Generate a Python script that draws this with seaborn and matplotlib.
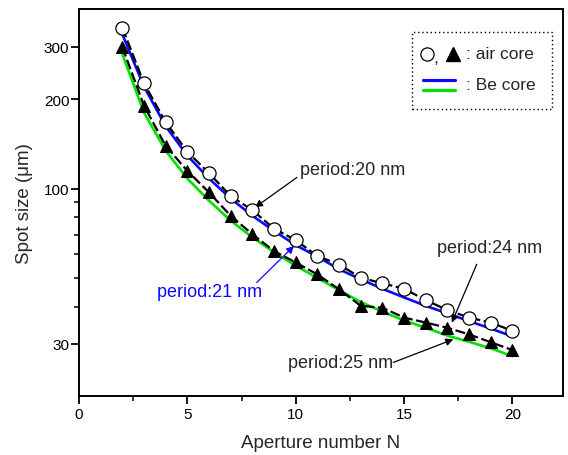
import numpy as np
import pandas as pd
import matplotlib
matplotlib.use("Agg")
import matplotlib.pyplot as plt
import seaborn as sns
from matplotlib.ticker import FixedLocator, NullFormatter, FixedFormatter

# ---------------- data ----------------
aperture_n = [2, 3, 4, 5, 6, 7, 8, 9, 10, 11, 12, 13, 14, 15, 16, 17, 18, 19, 20]
air_core_p20 = [347, 226, 167, 133, 112.5, 94.4, 84.5, 73.3, 67, 59.3, 55.5,
                50.1, 48.0, 46.0, 42.1, 39.0, 36.8, 35.4, 33.2]
air_core_p25 = [299, 190, 139, 114.6, 97, 80.9, 70.2, 61.6, 56.4, 51.4, 45.8,
                40.3, 39.7, 36.8, 35.4, 34.0, 32.3, 30.4, 28.6]
be_core_p21 = [330, 220, 162, 129, 108, 92.5, 81, 72, 64.5, 59, 53.5,
               49.5, 46, 43, 40.3, 38, 35.8, 33.8, 31.8]
be_core_p24 = [283, 180, 134, 108, 91, 78, 68.5, 61, 55, 50, 45.5,
               41.5, 38.5, 36, 34, 32, 30.5, 29, 27.3]

x_ticks = [0, 5, 10, 15, 20]
y_ticks = [30, 100, 200, 300]
y_minor = [40, 50, 60, 70, 80, 90]

df_air20 = pd.DataFrame({"N": aperture_n, "size": air_core_p20})
df_air25 = pd.DataFrame({"N": aperture_n, "size": air_core_p25})
df_be21 = pd.DataFrame({"N": aperture_n, "size": be_core_p21})
df_be24 = pd.DataFrame({"N": aperture_n, "size": be_core_p24})

# ---------------- style ----------------
sns.set_style("ticks")
plt.rcParams["font.family"] = ["Liberation Sans", "DejaVu Sans"]

BLUE = "#0a0aff"
GREEN = "#00e000"

fig = plt.figure(figsize=(5.68, 4.56), dpi=100)
ax = fig.add_axes([79 / 568, 1 - 397 / 456, (563 - 79) / 568, (397 - 10) / 456])

sns.lineplot(data=df_be24, x="N", y="size", ax=ax, color=GREEN, lw=1.9,
             zorder=2, errorbar=None)
sns.lineplot(data=df_be21, x="N", y="size", ax=ax, color=BLUE, lw=1.9,
             zorder=2, errorbar=None)
sns.lineplot(data=df_air25, x="N", y="size", ax=ax, color="black", lw=1.6,
             linestyle=(0, (4.5, 1.6)), marker="^", markersize=8.5,
             markerfacecolor="black", markeredgecolor="black", zorder=3,
             errorbar=None)
sns.lineplot(data=df_air20, x="N", y="size", ax=ax, color="black", lw=1.6,
             linestyle=(0, (4.5, 1.6)), marker="o", markersize=9.5,
             markerfacecolor="white", markeredgecolor="black",
             markeredgewidth=0.9, zorder=4, errorbar=None)

ax.set_yscale("log")
ax.set_xlim(0, 22.33)
ax.set_ylim(20.05, 401.6)

ax.xaxis.set_major_locator(FixedLocator(x_ticks))
ax.xaxis.set_minor_locator(FixedLocator([2.5, 7.5, 12.5, 17.5]))
ax.yaxis.set_major_locator(FixedLocator(y_ticks))
ax.yaxis.set_major_formatter(FixedFormatter([str(v) for v in y_ticks]))
ax.yaxis.set_minor_locator(FixedLocator(y_minor))
ax.yaxis.set_minor_formatter(NullFormatter())

ax.tick_params(which="major", direction="out", length=6, width=1.3,
               labelsize=11, color="black", labelcolor="black", pad=2)
ax.tick_params(axis="y", which="major", pad=1)
ax.tick_params(which="minor", direction="out", length=3.5, width=1.1,
               color="black")
for s in ax.spines.values():
    s.set_linewidth(1.4)
    s.set_color("black")
    s.set_visible(True)

ax.set_xlabel("Aperture number N", fontsize=13.5, labelpad=9)
ax.set_ylabel("Spot size (\u03bcm)", fontsize=13.5, labelpad=8)

# ---------------- annotations ----------------
arrow_k = dict(arrowstyle="-|>", color="black", lw=0.9, mutation_scale=11,
               shrinkA=0, shrinkB=0)
ax.text(10.2, 116.1, "period:20 nm", fontsize=13, ha="left", va="center")
ax.annotate("", xy=(8.12, 86.4), xytext=(10.05, 108.9), arrowprops=arrow_k)

ax.text(3.6, 45.2, "period:21 nm", fontsize=13, ha="left", va="center",
        color=BLUE)
ax.annotate("", xy=(9.92, 64.1), xytext=(8.2, 48.3),
            arrowprops=dict(arrow_k, color=BLUE))

ax.text(16.5, 63.5, "period:24 nm", fontsize=13, ha="left", va="center")
ax.annotate("", xy=(17.2, 35.4), xytext=(18.35, 55.6), arrowprops=arrow_k)

ax.text(9.65, 26.0, "period:25 nm", fontsize=13, ha="left", va="center")
ax.annotate("", xy=(17.27, 31.1), xytext=(14.5, 26.0), arrowprops=arrow_k)

# ---------------- legend box ----------------
tr = ax.transAxes
box = plt.Rectangle((0.687, 0.742), 0.977 - 0.687, 0.941 - 0.742,
                    transform=tr, fill=False, edgecolor="black",
                    linestyle=(0, (1, 2)), lw=1.0, zorder=5)
ax.add_patch(box)
ax.plot([0.718], [0.884], marker="o", markersize=9.5, markerfacecolor="white",
        markeredgecolor="black", markeredgewidth=0.9, transform=tr, zorder=6)
ax.text(0.733, 0.874, ",", fontsize=12.5, ha="left", va="center",
        transform=tr, zorder=6)
ax.plot([0.773], [0.884], marker="^", markersize=9.5, color="black",
        transform=tr, zorder=6)
ax.text(0.800, 0.884, ": air core", fontsize=12.5, ha="left", va="center",
        transform=tr, zorder=6)
ax.plot([0.711, 0.777], [0.817, 0.817], color=BLUE, lw=2.3, transform=tr,
        zorder=6)
ax.plot([0.711, 0.777], [0.791, 0.791], color=GREEN, lw=2.3, transform=tr,
        zorder=6)
ax.text(0.800, 0.806, ": Be core", fontsize=12.5, ha="left", va="center",
        transform=tr, zorder=6)

fig.savefig("out.png", dpi=100)
